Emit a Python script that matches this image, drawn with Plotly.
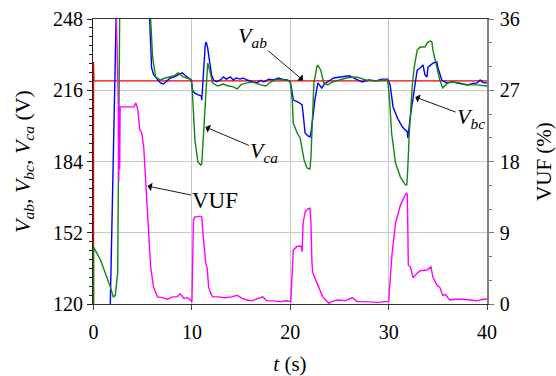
import plotly.graph_objects as go

# ---- time axis values (s) and line-voltage / VUF readings ----
t_bc = [0, 1.1, 1.7, 2.0, 2.3, 2.6, 5.5, 5.7, 5.8, 5.9, 6.1, 6.5, 6.8, 7.1, 7.5, 7.8, 8.2, 8.6, 9.0, 9.4,
        9.8, 9.95, 10.05, 10.25, 10.65, 10.95, 11.0, 11.15, 11.35, 11.45, 11.6, 11.8, 12.0, 12.2, 12.5,
        12.9, 13.2, 13.5, 13.9, 14.2, 14.5, 14.9, 15.2, 15.6, 16.0, 16.6, 17.0, 17.3, 17.8, 18.3, 18.8,
        19.3, 19.7, 20.0, 20.2, 20.3, 20.8, 21.2, 21.3, 21.5, 21.8, 22.0, 22.1, 22.3, 22.5, 22.8, 23.0,
        23.2, 23.5, 23.8, 24.4, 25.0, 25.4, 26.0, 26.7, 27.3, 28.0, 28.7, 29.3, 29.9, 30.15, 30.45, 30.9,
        31.4, 31.9, 31.95, 32.2, 32.5, 32.7, 32.9, 33.2, 33.5, 33.7, 33.9, 34.0, 34.5, 34.9, 35.0, 35.4,
        35.9, 36.5, 37.0, 37.5, 38.0, 38.5, 39.0, 39.3, 39.6, 40.0]
v_bc = [0, 0, 120, 184, 250, 262, 262, 248, 237, 226, 223, 220.6, 219.3, 218.8, 220.6, 221.5, 222.0,
        222.8, 223.8, 222.4, 221, 220.6, 216, 214.8, 213.9, 213.4, 211.6, 225, 236.3, 237.7, 235, 228.7,
        222.9, 220.6, 219.8, 220.6, 222, 221, 222, 220.6, 221.5, 221, 221.5, 220.6, 220, 219.3, 220.5,
        219.7, 221, 220.6, 221.5, 220.8, 220.6, 219.7, 214.8, 211.6, 210.7, 209.4, 205.8, 196.8, 195.5,
        195, 196.8, 205.8, 211.6, 219.3, 218, 217, 219, 219.7, 221.5, 222, 222, 222.5, 221, 219.7, 220.6,
        220.2, 221, 221, 218.4, 208.5, 203.5, 199.5, 197.3, 194.6, 204, 213, 220.6, 225, 226, 227.3,
        222.8, 222, 226.4, 228.2, 228.7, 226.4, 220.6, 219.3, 219.7, 219.3, 219, 218.4, 219, 219.3,
        220.6, 219.5, 219.3]

t_ca = [0, 0, 0.7, 1.2, 1.7, 2.0, 2.2, 2.45, 2.55, 2.65, 2.8, 5.5, 5.8, 6.0, 6.3, 6.8, 7.3, 7.8, 8.2,
        8.6, 9.1, 9.5, 9.8, 10.0, 10.15, 10.3, 10.6, 10.9, 11.0, 11.1, 11.2, 11.4, 11.6, 11.8, 12.1,
        12.6, 13.2, 13.7, 14.2, 14.6, 15.0, 15.6, 16.2, 17.0, 17.5, 18.0, 18.7, 19.3, 19.7, 20.0, 20.2,
        20.3, 20.7, 21.0, 21.4, 21.7, 22.0, 22.1, 22.2, 22.4, 22.7, 22.8, 23.1, 23.4, 23.8, 24.3, 25.0,
        25.7, 26.7, 27.7, 28.7, 29.5, 29.9, 30.1, 30.3, 30.7, 31.2, 31.7, 31.85, 31.95, 32.1, 32.4,
        32.6, 32.9, 33.2, 33.7, 33.9, 34.2, 34.4, 34.5, 34.9, 35.2, 35.5, 36.0, 36.5, 37.2, 38.0, 39.0,
        40.0]
v_ca = [0, 145.6, 139.8, 134, 127.7, 123.2, 123.8, 134, 181.5, 248, 262, 262, 248, 231, 222, 220.6,
        221.5, 222, 222.5, 223.8, 222, 221.5, 221, 219, 208.5, 193.7, 183.8, 182.4, 183, 190, 200,
        214.8, 228.2, 225, 219.3, 217.9, 218.8, 217.9, 217.5, 216.6, 218.5, 219.3, 219.7, 218.4, 217.9,
        219.7, 221, 220.6, 220.6, 219.7, 211.6, 201.3, 196.8, 194.6, 184.7, 181.1, 180.6, 186, 200,
        219.3, 226.4, 227.3, 225, 219.3, 218.4, 219.7, 220.6, 221.5, 222, 220.6, 220.2, 220.6, 220.6,
        211.6, 196.8, 183.3, 177, 173.5, 173.5, 181.5, 196.8, 217.9, 226.4, 234, 235.4, 235.4, 237.2,
        238.1, 237.7, 234, 226.4, 220.6, 217, 219.3, 219.7, 219.3, 218.4, 218.4, 217.9]

t_ab = [0, 0, 0.05, 40]
v_ab = [0, 228.7, 220.2, 220.2]

t_vuf = [2.25, 2.5, 2.55, 2.57, 2.6, 2.62, 2.65, 2.7, 3.0, 3.5, 4.1, 4.3, 4.5, 4.7, 4.9, 5.1, 5.3, 5.5,
         5.8, 6.1, 6.5, 7.0, 7.5, 8.0, 8.5, 8.8, 9.2, 9.5, 9.85, 10.0, 10.05, 10.15, 10.3, 10.55, 10.8,
         11.0, 11.15, 11.3, 11.4, 11.55, 11.7, 11.9, 12.1, 12.7, 13.3, 14.0, 14.6, 15.1, 15.6, 16.1,
         16.6, 17.2, 17.6, 18.2, 19.0, 19.6, 20.05, 20.2, 20.3, 20.7, 21.1, 21.2, 21.3, 21.5, 21.75,
         22.0, 22.1, 22.2, 22.3, 22.7, 23.0, 23.3, 23.9, 24.4, 24.9, 25.6, 26.3, 26.8, 27.5, 28.3, 29.0,
         29.6, 30.0, 30.15, 30.35, 30.7, 31.2, 31.5, 31.8, 31.9, 32.0, 32.2, 32.5, 32.9, 33.2, 33.9,
         34.3, 34.5, 34.9, 35.2, 35.5, 35.8, 36.2, 36.8, 37.6, 38.3, 39.0, 39.6, 40.0]
vuf = [40, 26, 15.4, 25, 16, 24.9, 17, 24.9, 24.9, 24.9, 24.9, 25.4, 24.5, 22, 21.6, 19.8, 15.7, 10.2,
       4.7, 2.1, 0.9, 0.8, 0.6, 0.9, 0.9, 1.3, 0.7, 0.8, 0.5, 0.25, 4, 10.6, 11.0, 11.0, 11.1, 11.0,
       8.5, 6.0, 5.2, 4.5, 2.1, 1.4, 0.9, 0.9, 0.8, 0.9, 1.1, 0.7, 0.5, 0.4, 0.6, 0.9, 0.4, 0.4, 0.3,
       0.4, 0.3, 4.7, 6.8, 7.3, 7.3, 6.6, 10.2, 11.6, 12.0, 12.1, 10.2, 5.2, 3.9, 2.7, 1.8, 0.9, 0.1,
       0.4, 0.5, 0.4, 0.8, 0.3, 0.3, 0.2, 0.2, 0.3, 0.3, 3, 6.4, 10.2, 12.5, 13.3, 14.0, 13.8, 4.9, 4.7,
       3.3, 3.9, 4.2, 4.3, 4.7, 3.4, 2.4, 2.1, 1.1, 1.2, 0.5, 0.6, 0.6, 0.5, 0.4, 0.6, 0.6]

v_ticks = [120, 152, 184, 216, 248]
vuf_ticks = [0, 9, 18, 27, 36]
t_ticks = [0, 10, 20, 30, 40]

FONT = "Liberation Serif, Times New Roman, serif"

fig = go.Figure()
fig.add_trace(go.Scatter(x=t_vuf, y=vuf, yaxis="y2", mode="lines",
                         line=dict(color="#ff00ff", width=1.4), name="VUF"))
fig.add_trace(go.Scatter(x=t_ab, y=v_ab, mode="lines",
                         line=dict(color="#ee0000", width=1.2), name="Vab"))
fig.add_trace(go.Scatter(x=t_bc, y=v_bc, mode="lines",
                         line=dict(color="#0000ff", width=1.4), name="Vbc"))
fig.add_trace(go.Scatter(x=t_ca, y=v_ca, mode="lines",
                         line=dict(color="#148514", width=1.4), name="Vca"))

arrow = dict(showarrow=True, arrowhead=1, arrowsize=1.6, arrowwidth=0.9, arrowcolor="black",
             font=dict(family=FONT, size=22, color="black"))
fig.add_annotation(x=21.3, y=220.5, ax=-51, ay=-43, text="<i>V<sub>ab</sub></i>", **arrow)
fig.add_annotation(x=11.37, y=199.5, ax=59, ay=25, text="<i>V<sub>ca</sub></i>", **arrow)
fig.add_annotation(x=32.7, y=213, ax=56, ay=21, text="<i>V<sub>bc</sub></i>", **arrow)
fig.add_annotation(x=5.48, y=14.9, xref="x", yref="y2", ax=68, ay=14, text="VUF",
                   **{**arrow, "font": dict(family=FONT, size=23, color="black")})

fig.update_layout(
    width=556, height=376,
    margin=dict(l=93, r=69, t=19, b=72, autoexpand=False),
    paper_bgcolor="white", plot_bgcolor="white",
    showlegend=False,
    font=dict(family=FONT, size=20, color="black"),
    xaxis=dict(range=[-0.06, 40], tickvals=t_ticks, ticks="outside", ticklen=5, tickcolor="#444",
               ticklabelstandoff=5, automargin=False,
               showgrid=True, gridcolor="#c8c8c8", gridwidth=1.2, zeroline=False,
               showline=True, linecolor="#333", linewidth=1.2, mirror=True, layer="below traces",
               title=dict(text="<i>t</i> (s)", font=dict(size=21), standoff=16)),
    yaxis=dict(range=[120, 248], tickvals=v_ticks, ticks="outside", ticklen=5, tickcolor="#222",
               automargin=False,
               minor=dict(tick0=120, dtick=4, ticks="outside", ticklen=3, tickcolor="#222", showgrid=False),
               showgrid=True, gridcolor="#c8c8c8", gridwidth=1.2, zeroline=False,
               showline=True, linecolor="#222", linewidth=1.2, layer="below traces",
               title=dict(text="<i>V<sub>ab</sub></i>, <i>V<sub>bc</sub></i>, <i>V<sub>ca</sub></i> (V)",
                          font=dict(size=22), standoff=16)),
    yaxis2=dict(range=[0, 36], tickvals=vuf_ticks, overlaying="y", side="right", anchor="x",
                ticks="outside", ticklen=5, tickcolor="#777", ticklabelstandoff=2, automargin=False,
                minor=dict(tick0=0, dtick=3, ticks="outside", ticklen=3, tickcolor="#777", showgrid=False),
                showgrid=False, zeroline=False, showline=True, linecolor="#808080", linewidth=1.5,
                title=dict(text="VUF (%)", font=dict(size=21), standoff=18)),
)

fig.write_html("out.html")
